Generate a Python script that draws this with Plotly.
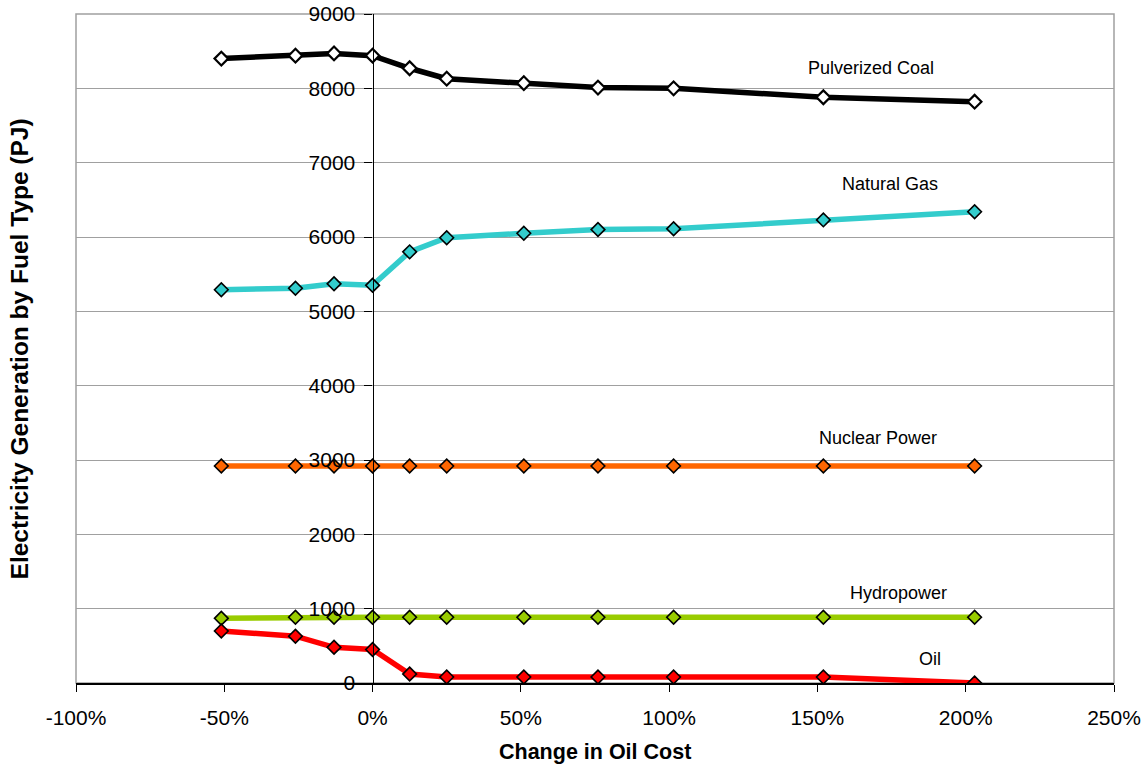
import plotly.graph_objects as go

oil_change = [-0.51, -0.26, -0.13, 0.0, 0.125, 0.25, 0.51, 0.76, 1.015, 1.52, 2.03]
coal = [8400, 8440, 8470, 8440, 8270, 8130, 8070, 8010, 8000, 7880, 7820]
gas = [5290, 5310, 5370, 5350, 5800, 5990, 6050, 6100, 6110, 6230, 6340]
nuclear = [2920, 2920, 2920, 2920, 2920, 2920, 2920, 2920, 2920, 2920, 2920]
hydro = [870, 885, 885, 885, 885, 885, 885, 885, 885, 885, 885]
oil = [700, 630, 480, 450, 120, 80, 80, 80, 80, 80, 0]

x_tickvals = [-1.0, -0.5, 0.0, 0.5, 1.0, 1.5, 2.0, 2.5]
x_ticktext = ["-100%", "-50%", "0%", "50%", "100%", "150%", "200%", "250%"]

series = [
    ("Pulverized Coal", coal, "#000000", "#FFFFFF", 2.2),
    ("Natural Gas", gas, "#33CCCC", "#33CCCC", 1.6),
    ("Nuclear Power", nuclear, "#FF6600", "#FF6600", 1.6),
    ("Hydropower", hydro, "#99CC00", "#99CC00", 1.6),
    ("Oil", oil, "#FF0000", "#FF0000", 1.6),
]
label_pos = {
    "Pulverized Coal": (1.68, 8274),
    "Natural Gas": (1.745, 6713),
    "Nuclear Power": (1.705, 3296),
    "Hydropower": (1.775, 1211),
    "Oil": (1.88, 323),
}

font = "Liberation Sans, Arial, sans-serif"
fig = go.Figure()
for name, vals, col, mfill, mlw in series:
    fig.add_trace(go.Scatter(
        x=oil_change, y=vals, mode="lines+markers", name=name,
        line=dict(color=col, width=5.5),
        marker=dict(symbol="diamond", size=10.5, color=mfill,
                    line=dict(color="black", width=mlw)),
    ))

x0, x1 = -1.0, 2.5
fig.update_layout(
    width=1143, height=765,
    margin=dict(l=76, r=29, t=14, b=82),
    paper_bgcolor="white", plot_bgcolor="white",
    showlegend=False,
    font=dict(family=font, size=21, color="black"),
    xaxis=dict(range=[x0, x1], tickvals=x_tickvals, ticktext=x_ticktext,
               showgrid=False, zeroline=False, showline=True,
               linecolor="black", linewidth=1.5, ticks="outside",
               ticklen=7, tickcolor="black", domain=[0, 1],
               ticklabelstandoff=8, automargin=False),
    yaxis=dict(range=[0, 9000], dtick=1000, showgrid=True,
               gridcolor="#A0A0A0", gridwidth=1, zeroline=False,
               showline=True, linecolor="black", linewidth=1.2,
               ticks="outside", ticklen=8, tickcolor="black",
               anchor="free", position=(0 - x0) / (x1 - x0),
               ticklabelstandoff=5, automargin=False),
    shapes=[dict(type="rect", xref="paper", yref="paper", x0=0, x1=1,
                 y0=0, y1=1, line=dict(color="#A0A0A0", width=1.5),
                 layer="below")],
)
fig.add_annotation(xref="paper", yref="paper", x=-0.054, y=0.5,
                   xanchor="center", yanchor="middle",
                   text="<b>Electricity Generation by Fuel Type (PJ)</b>",
                   textangle=-90, showarrow=False,
                   font=dict(size=24.5, family=font))
fig.add_annotation(xref="paper", yref="paper", x=0.5, y=-0.103,
                   xanchor="center", yanchor="middle",
                   text="<b>Change in Oil Cost</b>", showarrow=False,
                   font=dict(size=21.5, family=font))
for name, vals, col, mfill, mlw in series:
    lx, ly = label_pos[name]
    fig.add_annotation(x=lx, y=ly, text=name, showarrow=False,
                       font=dict(size=18, color="black", family=font))
fig.write_html("out.html", config={"displayModeBar": False},
               post_script="document.body.style.margin='0';document.body.style.overflow='hidden';")
